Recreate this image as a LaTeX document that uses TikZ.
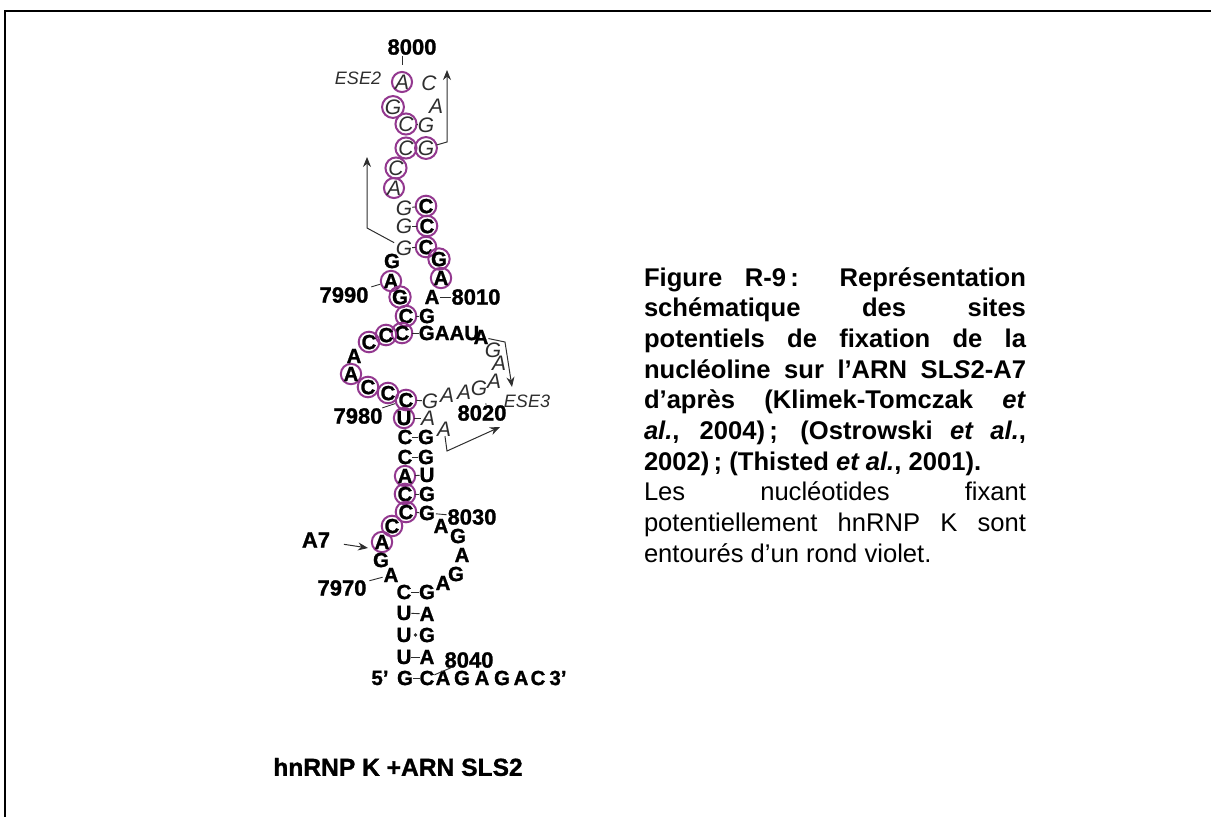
\documentclass[tikz,border=0pt]{standalone}
\usepackage{fontspec}
\setmainfont{Liberation Sans}
\newfontfamily\heavy[UprightFont=* Bold,FakeBold=1.2]{Liberation Sans}
\usetikzlibrary{arrows.meta,calc}
\definecolor{vio}{HTML}{93388F}
\definecolor{ink}{HTML}{2E2E2E}
\tikzset{
  x=1pt,y=-1pt,
  base/.style={inner sep=0pt,outer sep=0pt},
  nb/.style={base,font=\heavy\fontsize{20.5}{20.5}\selectfont,text=black},
  ni/.style={base,font=\itshape\fontsize{21}{21}\selectfont,text=ink},
  cb/.style={nb,circle,draw=vio,line width=2pt,minimum size=19.5pt,text depth=0pt},
  ci/.style={ni,circle,draw=vio,line width=2pt,minimum size=19.5pt,text depth=0pt},
  num/.style={base,font=\heavy\fontsize{22}{22}\selectfont,text=black},
  tag/.style={base,font=\itshape\fontsize{18}{18}\selectfont,text=ink},
  bond/.style={draw=ink,line width=0.9pt},
  tick/.style={draw=ink,line width=0.9pt},
  arrow/.style={draw=ink,line width=1pt,-{Stealth[length=10pt,width=8pt]}},
  frameline/.style={draw=black,line width=2pt}
}
\begin{document}
\begin{tikzpicture}
\useasboundingbox (0,0) rectangle (1211,817);
% frame
\coordinate (fa) at (5,817); \coordinate (fb) at (5,10.5); \coordinate (fc) at (1211,10.5);
\draw[frameline] (fa) -- (fb) -- (fc);
% circled italic
\foreach \n/\x/\y/\t in {ia/402/82/A,ib/393/107/G,ic/406/124/C,id/406/148/C,ie/396/168/C,if/394/188/A,ig/426/148/G}
  \node[ci] (\n) at (\x,\y) {\t};
% plain italic
\foreach \n/\x/\y/\t in {pa/429/83/C,pb/436/106/A,pc/426/125/G,pd/404/208/G,pe/404/226/G,pf/404/248/G,
  pg/493/350/G,ph/499/363/A,pi/494/381/A,pj/479/388/G,pk/464/392/A,pl/447/395/A,pm/430/401/G,pn/428/418/A,po/444/429/A}
  \node[ni] (\n) at (\x,\y) {\t};
% circled bold
\foreach \n/\x/\y/\t in {ca/426/206/C,cb/427/226/C,cc/426/247/C,cd/439/259/G,ce/441/278/A,cf/391/281/A,cg/400/297/G,
  ch/406/316/C,ci/402/333/C,cj/386/335/C,ck/369/342/C,cl/351/374/A,cm/368/387/C,cn/388/393/C,co/406/400/C,cp/404/418/U,
  cq/405/476/A,cr/405/494/C,cs/406/512/C,ct/392/526/C,cu/382/542/A}
  \node[cb] (\n) at (\x,\y) {\t};
% plain bold
\foreach \n/\x/\y/\t in {ba/392/261/G,bb/432/297/A,bc/427/316/G,bd/449/333/GAAU,be/481/337/A,bf/354/356/A,
  bg/405/437/C,bh/426/437/G,bi/405/457/C,bj/426/457/G,bk/427/475/U,bl/427/494/G,bm/427/513/G,
  bn/441/526/A,bo/458/536/G,bp/462/555/A,bq/456/574/G,br/443/583/A,
  bs/381/560/G,bt/391/575/A,bu/404/592/C,bv/427/592/G,bw/404/613/U,bx/427/614/A,by/404/635/U,bz/427/635/G,
  ca2/404/657/U,cb2/427/657/A,
  r0/380/678/5’,r1/405/678/G,r2/427/678/C,r3/443/678/A,r4/462/678/G,r5/482/678/A,r6/502/678/G,r7/521/678/A,r8/538/678/C,r9/558/678/3’}
  \node[nb] (\n) at (\x,\y) {\t};
% numbers
\foreach \n/\x/\y/\t in {n8000/412/47/8000,n7990/344/295/7990,n8010/476/297/8010,n7980/358/416/7980,n8020/482/413/8020,
  n8030/472/517/8030,n7970/342/588/7970,n8040/469/660/8040,nA7/316/540/A7}
  \node[num] (\n) at (\x,\y) {\t};
\node[tag] (ese2) at (358,78) {ESE2};
\node[tag] (ese3) at (527,401) {ESE3};
% base pairs
\foreach \a/\b in {ic/pc,pd/ca,pe/cb,pf/cc,ch/bc,ci/bd,co/pm,cp/pn,bg/bh,bi/bj,cq/bk,cr/bl,cs/bm,bu/bv,bw/bx,ca2/cb2,r1/r2}
  \draw[bond] (\a) -- (\b);
\coordinate (dotc) at ($(by)!0.5!(bz)$);
\fill[ink] (dotc) circle (1.8pt);
% number ticks
\draw[tick,shorten <=1pt,shorten >=7pt] (n8000.south -| ia) -- (ia);
\draw[tick,shorten <=3pt,shorten >=1pt] (n7990) -- (cf);
\draw[tick,shorten <=1pt,shorten >=1pt] (n8010) -- (bb);
\draw[tick,shorten <=1pt,shorten >=1pt] (n7980) -- (co);
\draw[tick,shorten <=2pt,shorten >=10pt] (n8020.60) -- (pj);
\draw[tick,shorten <=1pt,shorten >=1pt] (n8030) -- (bm);
\draw[tick,shorten <=3pt,shorten >=1pt] (n7970) -- (bt);
\draw[tick] (n8040) -- (r2);
% arrows
\coordinate (a1) at (447,142); \coordinate (a2) at (447,70);
\draw[arrow] (ig) -- (a1) -- (a2);
\coordinate (a3) at (367,228); \coordinate (a4) at (367,157);
\draw[arrow,shorten <=2pt] (pf) -- (a3) -- (a4);
\coordinate (a5) at (505,342); \coordinate (a6) at (512,387);
\draw[arrow] (be) -- (a5) -- (a6);
\coordinate (a7) at (447,451); \coordinate (a8) at (500,427);
\draw[arrow] (po) -- (a7) -- (a8);
\coordinate (a9) at (368,548);
\draw[arrow,shorten <=14pt] (nA7) -- (a9);
% caption
\node[base,anchor=base west] (cap) at (644,286) {\parbox[t]{382pt}{\fontsize{25.6}{30.7}\selectfont
\tolerance=9999\hbadness=10000\hfuzz=20pt\parindent=0pt\parskip=0pt
\textbf{Figure R-9\,: Représentation\linebreak
schématique des sites\linebreak
potentiels de fixation de la\linebreak
nucléoline sur l’ARN SL\textit{S}2-A7\linebreak
d’après (Klimek-Tomczak \textit{et}\linebreak
\textit{al.}, 2004)\,; (Ostrowski \textit{et al.},\linebreak
2002)\,; (Thisted \textit{et al.}, 2001).}\par
Les nucléotides fixant\linebreak
potentiellement hnRNP K sont\linebreak
entourés d’un rond violet.}};
\node[base,font=\heavy\fontsize{24.6}{24.6}\selectfont] (hn) at (398,767) {hnRNP K +ARN SLS2};
\end{tikzpicture}
\end{document}
